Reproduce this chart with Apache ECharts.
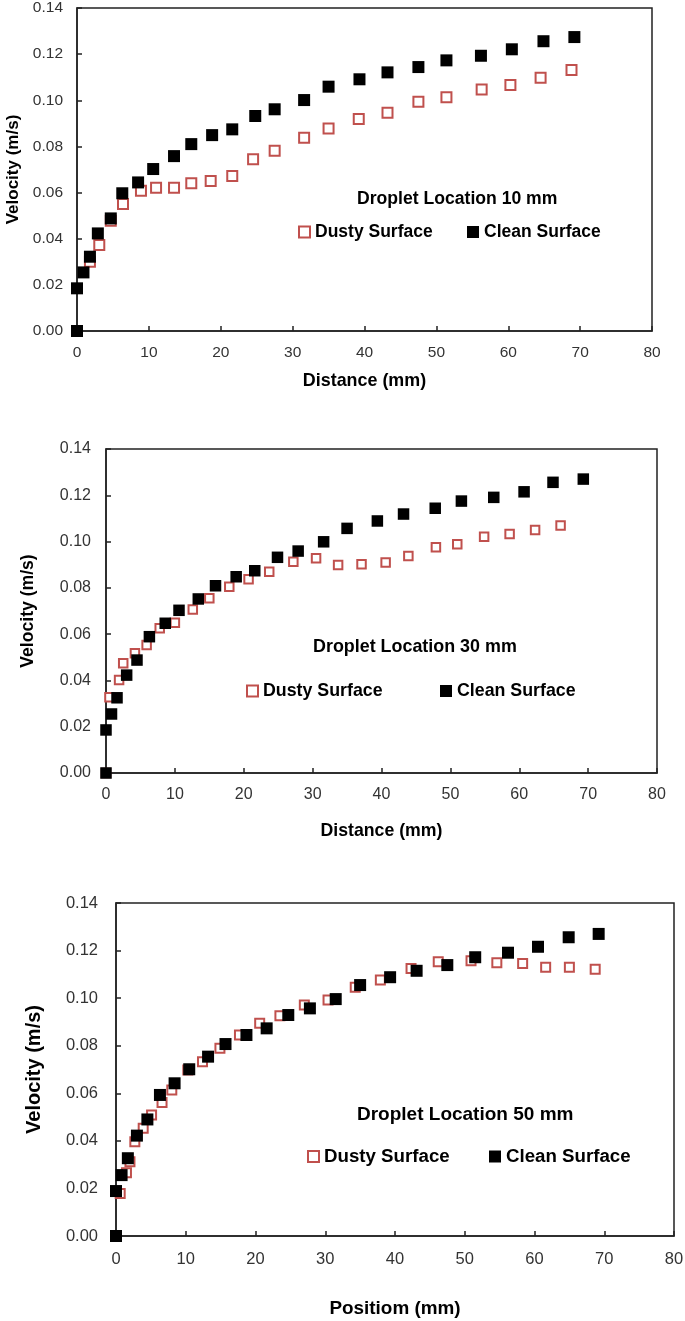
<!DOCTYPE html>
<html>
<head>
<meta charset="utf-8">
<script src="https://cdn.jsdelivr.net/npm/echarts@6/dist/echarts.min.js"></script>
<style>
html,body{margin:0;padding:0;background:#fff;}
#chart{width:685px;height:1321px;}
</style>
</head>
<body>
<div id="chart"></div>
<script>
// ---------- data ----------
const seriesNames = ['Dusty Surface', 'Clean Surface'];
const panelTitles = ['Droplet Location 10 mm', 'Droplet Location 30 mm', 'Droplet Location 50 mm'];
const xAxisTitles = ['Distance (mm)', 'Distance (mm)', 'Positiom (mm)'];
const yAxisTitle = 'Velocity (m/s)';
const xRange = [0, 80, 10];
const yRange = [0, 0.14, 0.02];

// Panel 1 (Droplet Location 10 mm)
const p1DustyX = [0, 1.8, 3.1, 4.7, 6.4, 8.9, 11.0, 13.5, 15.9, 18.6, 21.6, 24.5, 27.5, 31.6, 35.0, 39.2, 43.2, 47.5, 51.4, 56.3, 60.3, 64.5, 68.8];
const p1DustyY = [0, 0.0300, 0.0373, 0.0478, 0.0550, 0.0608, 0.0621, 0.0621, 0.0640, 0.0650, 0.0672, 0.0744, 0.0781, 0.0838, 0.0878, 0.0919, 0.0946, 0.0994, 0.1013, 0.1047, 0.1066, 0.1098, 0.1131];
const p1CleanX = [0, 0, 0.9, 1.8, 2.9, 4.7, 6.3, 8.5, 10.6, 13.5, 15.9, 18.8, 21.6, 24.8, 27.5, 31.6, 35.0, 39.3, 43.2, 47.5, 51.4, 56.2, 60.5, 64.9, 69.2];
const p1CleanY = [0, 0.0185, 0.0254, 0.0322, 0.0423, 0.0488, 0.0597, 0.0644, 0.0702, 0.0758, 0.0810, 0.0849, 0.0874, 0.0932, 0.0961, 0.1001, 0.1059, 0.1091, 0.1121, 0.1144, 0.1173, 0.1193, 0.1221, 0.1256, 0.1274];

// Panel 2 (Droplet Location 30 mm)
const p2DustyX = [0, 0.5, 1.9, 2.5, 4.2, 5.9, 7.8, 10.0, 12.6, 15.0, 17.9, 20.7, 23.7, 27.2, 30.5, 33.7, 37.1, 40.6, 43.9, 47.9, 51.0, 54.9, 58.6, 62.3, 66.0];
const p2DustyY = [0, 0.0327, 0.0402, 0.0474, 0.0517, 0.0553, 0.0625, 0.0649, 0.0707, 0.0755, 0.0805, 0.0837, 0.0870, 0.0913, 0.0928, 0.0899, 0.0902, 0.0910, 0.0938, 0.0975, 0.0988, 0.1021, 0.1033, 0.1050, 0.1069];
const p2CleanX = [0, 0, 0.8, 1.6, 3.0, 4.5, 6.3, 8.6, 10.6, 13.4, 15.9, 18.9, 21.6, 24.9, 27.9, 31.6, 35.0, 39.4, 43.2, 47.8, 51.6, 56.3, 60.7, 64.9, 69.3];
const p2CleanY = [0, 0.0186, 0.0255, 0.0325, 0.0423, 0.0488, 0.0589, 0.0647, 0.0703, 0.0752, 0.0809, 0.0848, 0.0874, 0.0932, 0.0959, 0.0999, 0.1057, 0.1089, 0.1119, 0.1144, 0.1175, 0.1191, 0.1215, 0.1256, 0.1270];

// Panel 3 (Droplet Location 50 mm)
const p3DustyX = [0, 0.6, 1.5, 2.0, 2.7, 3.9, 5.1, 6.6, 8.0, 10.3, 12.4, 14.9, 17.7, 20.6, 23.5, 27.0, 30.4, 34.3, 37.9, 42.3, 46.2, 50.9, 54.6, 58.3, 61.6, 65.0, 68.7];
const p3DustyY = [0, 0.0179, 0.0266, 0.0312, 0.0396, 0.0453, 0.0509, 0.0561, 0.0614, 0.0698, 0.0733, 0.0789, 0.0845, 0.0894, 0.0926, 0.0971, 0.0992, 0.1046, 0.1076, 0.1125, 0.1153, 0.1157, 0.1149, 0.1146, 0.1130, 0.1130, 0.1121];
const p3CleanX = [0, 0, 0.8, 1.7, 3.0, 4.5, 6.3, 8.4, 10.5, 13.2, 15.7, 18.7, 21.6, 24.7, 27.8, 31.5, 35.0, 39.3, 43.1, 47.5, 51.5, 56.2, 60.5, 64.9, 69.2];
const p3CleanY = [0, 0.0189, 0.0256, 0.0327, 0.0422, 0.0490, 0.0593, 0.0642, 0.0701, 0.0754, 0.0807, 0.0845, 0.0873, 0.0929, 0.0957, 0.0996, 0.1055, 0.1088, 0.1115, 0.1139, 0.1172, 0.1191, 0.1216, 0.1256, 0.1270];

// ---------- layout / style ----------
const FONT = '"Liberation Sans", Arial, sans-serif';
const RED = '#c0504d';
const panels = [
  {dx: p1DustyX, dy: p1DustyY, cx: p1CleanX, cy: p1CleanY,
   grid: {left: 77, top: 8, width: 575, height: 323},
   xGap: 41, yGap: 47, tickFs: 15.5, yMargin: 14, xMargin: 14,
   xNameFs: 17.9, yNameFs: 17, legFs: 17.5, titleFs: 17.6,
   dustySize: 10, cleanSize: 12,
   titlePos: [357, 190], dustyLeg: [298, 223], cleanLeg: [467, 223]},
  {dx: p2DustyX, dy: p2DustyY, cx: p2CleanX, cy: p2CleanY,
   grid: {left: 106, top: 449, width: 551, height: 324},
   xGap: 49, yGap: 69, tickFs: 16, yMargin: 15, xMargin: 14,
   xNameFs: 17.7, yNameFs: 17.6, legFs: 17.8, titleFs: 17.9,
   dustySize: 8.5, cleanSize: 11.5,
   titlePos: [313, 638], dustyLeg: [246, 682], cleanLeg: [440, 682]},
  {dx: p3DustyX, dy: p3DustyY, cx: p3CleanX, cy: p3CleanY,
   grid: {left: 116, top: 903, width: 558, height: 333},
   xGap: 63, yGap: 72, tickFs: 16.5, yMargin: 18, xMargin: 15,
   xNameFs: 18.9, yNameFs: 20, legFs: 18.7, titleFs: 19,
   dustySize: 9, cleanSize: 12,
   titlePos: [357, 1105], dustyLeg: [307, 1147], cleanLeg: [489, 1147]}
];

const zip = (xs, ys) => xs.map((x, i) => [x, ys[i]]);

const grids = [], xAxes = [], yAxes = [], series = [], legends = [], graphics = [];
panels.forEach((p, i) => {
  grids.push(Object.assign({show: true, borderColor: '#222', borderWidth: 1.5,
    backgroundColor: 'transparent', containLabel: false, outerBoundsMode: 'none'}, p.grid));
  xAxes.push({
    type: 'value', gridIndex: i, min: xRange[0], max: xRange[1], interval: xRange[2],
    name: xAxisTitles[i], nameLocation: 'middle', nameGap: p.xGap,
    nameTextStyle: {fontFamily: FONT, fontSize: p.xNameFs, fontWeight: 'bold', color: '#000'},
    axisLine: {show: true, onZero: false, lineStyle: {color: '#222', width: 1.5}},
    axisTick: {show: true, inside: true, length: 5, lineStyle: {color: '#222', width: 1.5}},
    axisLabel: {fontFamily: FONT, fontSize: p.tickFs, color: '#333', margin: p.xMargin},
    splitLine: {show: false}
  });
  yAxes.push({
    type: 'value', gridIndex: i, min: yRange[0], max: yRange[1], interval: yRange[2],
    name: yAxisTitle, nameLocation: 'middle', nameGap: p.yGap, nameRotate: 90,
    nameTextStyle: {fontFamily: FONT, fontSize: p.yNameFs, fontWeight: 'bold', color: '#000'},
    axisLine: {show: true, onZero: false, lineStyle: {color: '#222', width: 1.5}},
    axisTick: {show: true, inside: true, length: 5, lineStyle: {color: '#222', width: 1.5}},
    axisLabel: {fontFamily: FONT, fontSize: p.tickFs, color: '#333', margin: p.yMargin,
      formatter: v => v.toFixed(2)},
    splitLine: {show: false}
  });
  series.push({
    name: seriesNames[0], type: 'scatter', xAxisIndex: i, yAxisIndex: i,
    symbol: 'rect', symbolSize: p.dustySize,
    itemStyle: {color: '#fff', borderColor: RED, borderWidth: 2, opacity: 1},
    data: zip(p.dx, p.dy), z: 2
  });
  series.push({
    name: seriesNames[1], type: 'scatter', xAxisIndex: i, yAxisIndex: i,
    symbol: 'rect', symbolSize: p.cleanSize,
    itemStyle: {color: '#000', opacity: 1},
    data: zip(p.cx, p.cy), z: 3
  });
  const legTxt = {fontFamily: FONT, fontSize: p.legFs, fontWeight: 'bold', color: '#000'};
  legends.push({data: [seriesNames[0]], left: p.dustyLeg[0], top: p.dustyLeg[1], padding: 0,
    itemWidth: 11, itemHeight: 11, itemGap: 4, textStyle: legTxt, selectedMode: false,
    itemStyle: {color: '#fff', borderColor: RED, borderWidth: 2}});
  legends.push({data: [seriesNames[1]], left: p.cleanLeg[0], top: p.cleanLeg[1], padding: 0,
    itemWidth: 12, itemHeight: 12, itemGap: 3, textStyle: legTxt, selectedMode: false});
  graphics.push({type: 'text', left: p.titlePos[0], top: p.titlePos[1],
    style: {text: panelTitles[i], font: 'bold ' + p.titleFs + 'px ' + FONT, fill: '#000'}});
});

const chart = echarts.init(document.getElementById('chart'), null, {renderer: 'canvas'});
chart.setOption({
  animation: false,
  backgroundColor: '#fff',
  grid: grids, xAxis: xAxes, yAxis: yAxes, series: series,
  legend: legends, graphic: graphics
});
</script>
</body>
</html>
